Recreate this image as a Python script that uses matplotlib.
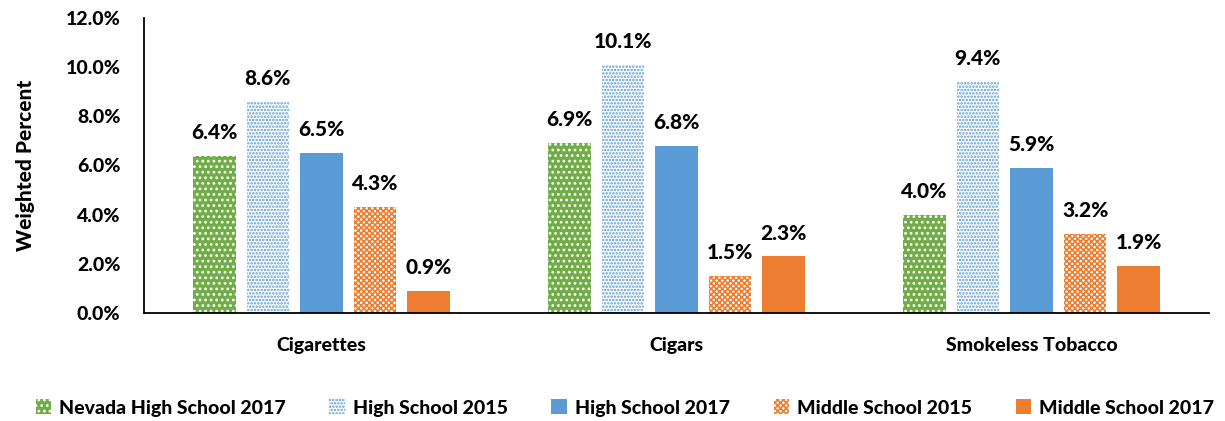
import matplotlib
matplotlib.use("Agg")
import matplotlib.pyplot as plt
import numpy as np

categories = ["Cigarettes", "Cigars", "Smokeless Tobacco"]
series_names = ["Nevada High School 2017", "High School 2015", "High School 2017",
                "Middle School 2015", "Middle School 2017"]
nv_hs_2017 = [6.4, 6.9, 4.0]
hs_2015 = [8.6, 10.1, 9.4]
hs_2017 = [6.5, 6.8, 5.9]
ms_2015 = [4.3, 1.5, 3.2]
ms_2017 = [0.9, 2.3, 1.9]
yticks = [0, 2, 4, 6, 8, 10, 12]

plt.rcParams['font.family'] = ['Lato', 'DejaVu Sans']
plt.rcParams['hatch.linewidth'] = 1.2
W = "black"

fig = plt.figure(figsize=(12.25, 4.21), dpi=100)
ax = fig.add_axes([144/1225, 1 - 313/421, (1209-144)/1225, (313-18)/421])

green = "#70AD47"
blue = "#5B9BD5"
orange = "#ED7D31"
styles = [
    dict(facecolor=green, edgecolor="white", hatch="...", linewidth=0),
    dict(facecolor="white", edgecolor=blue, hatch=".....", linewidth=0),
    dict(facecolor=blue, edgecolor=blue, linewidth=0),
    dict(facecolor="white", edgecolor=orange, hatch="xxxxxx", linewidth=0),
    dict(facecolor=orange, edgecolor=orange, linewidth=0),
]
data = [nv_hs_2017, hs_2015, hs_2017, ms_2015, ms_2017]
x = np.arange(len(categories))
w = 0.12
step = 0.151
for i, (vals, st, name) in enumerate(zip(data, styles, series_names)):
    pos = x + (i - 2) * step
    bars = ax.bar(pos, vals, width=w, label=name, **st)
    for b, v in zip(bars, vals):
        ax.annotate(f"{v:.1f}%", (b.get_x() + b.get_width()/2, v),
                    xytext=(0, 10), textcoords="offset points",
                    ha="center", va="bottom", fontsize=15, fontweight=W)

ax.set_xlim(-0.5, 2.5)
ax.set_ylim(0, 12)
ax.set_yticks(yticks)
ax.set_yticklabels([f"{t:.1f}%" for t in yticks], fontsize=14, fontweight=W)
ax.set_xticks(x)
ax.set_xticklabels(categories, fontsize=14, fontweight=W)
ax.tick_params(axis="y", length=0, pad=17)
ax.tick_params(axis="x", length=0, pad=17)
ax.set_ylabel("Weighted Percent", fontsize=15, fontweight=W, labelpad=22)
for s in ["top", "right"]:
    ax.spines[s].set_visible(False)
for s in ["left", "bottom"]:
    ax.spines[s].set_linewidth(1.3)
    ax.spines[s].set_color("black")

leg = fig.legend(loc="center", bbox_to_anchor=(0.51, 1 - 408/421), ncol=5, frameon=False,
                 prop=dict(size=14, weight=W), handlelength=0.8, handleheight=0.8,
                 columnspacing=2.25, handletextpad=0.4)

fig.savefig("out.png", dpi=100)
